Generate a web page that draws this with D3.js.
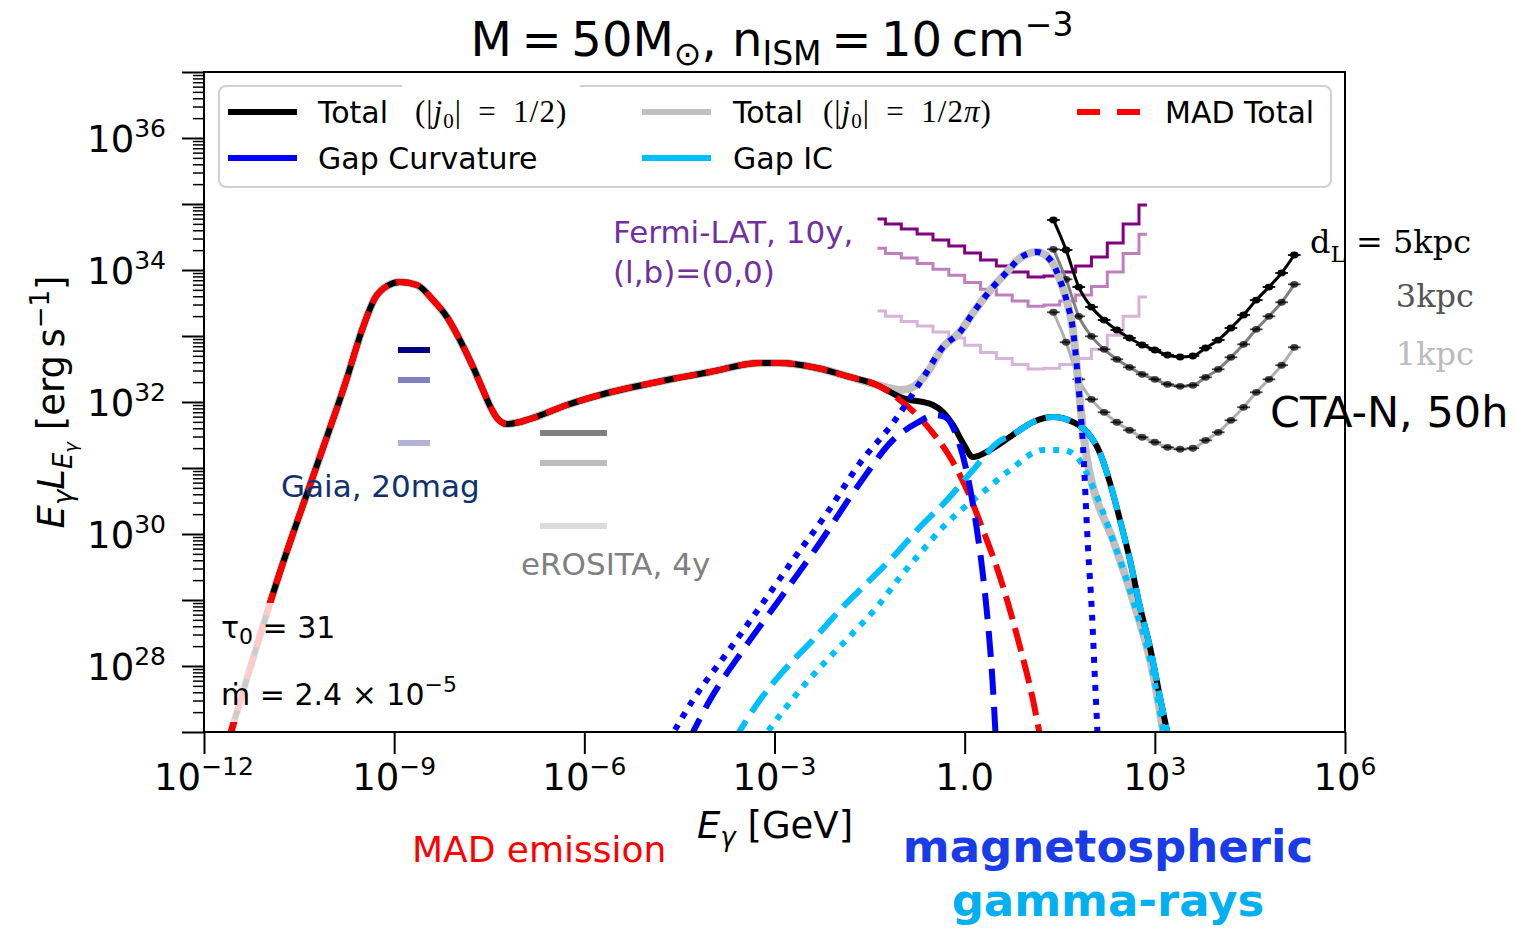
<!DOCTYPE html>
<html>
<head>
<meta charset="utf-8">
<script src="https://cdn.jsdelivr.net/npm/d3@7"></script>
<style>
  body { margin: 0; background: #fff; }
</style>
</head>
<body>
<div id="chartWrap"></div>
<script>
'use strict'

//#region Data (log10 E [GeV], log10 EL_E [erg/s])
const madE = [-11.621, -11.574, -10.801, -10.217, -9.744, -9.507, -9.302, -9.113, -8.908, -8.640, -8.387, -8.167, -7.962, -7.756, -7.599, -7.488, -7.378, -7.220, -7.015, -6.810, -6.274, -5.753, -4.696, -4.018, -3.229, -2.913, -2.330, -1.809, -1.383, -1.020, -0.752, -0.500, -0.232, 0.037, 0.289, 0.557, 0.873, 1.078, 1.188, 1.236];
const madL = [26.848, 27.000, 29.424, 31.045, 32.364, 33.091, 33.576, 33.758, 33.818, 33.773, 33.545, 33.288, 32.939, 32.530, 32.182, 31.939, 31.758, 31.667, 31.697, 31.758, 31.955, 32.106, 32.333, 32.455, 32.591, 32.591, 32.515, 32.379, 32.258, 32.030, 31.803, 31.530, 31.167, 30.667, 30.061, 29.348, 28.288, 27.485, 26.955, 26.758];

// Total, |j0| = 1/2
const totalE = [-11.621, -11.574, -10.801, -10.217, -9.744, -9.507, -9.302, -9.113, -8.908, -8.640, -8.387, -8.167, -7.962, -7.756, -7.599, -7.488, -7.378, -7.220, -7.015, -6.810, -6.274, -5.753, -4.696, -4.018, -3.229, -2.913, -2.330, -1.809, -1.383,
                -1.020, -0.862, -0.657, -0.500, -0.342, -0.184, -0.026, 0.131, 0.400, 0.825, 1.078, 1.393, 1.709, 1.930, 2.135, 2.293, 2.450, 2.608, 2.766, 2.923, 3.081, 3.239];
const totalL = [26.848, 27.000, 29.424, 31.045, 32.364, 33.091, 33.576, 33.758, 33.818, 33.773, 33.545, 33.288, 32.939, 32.530, 32.182, 31.939, 31.758, 31.667, 31.697, 31.758, 31.955, 32.106, 32.333, 32.455, 32.591, 32.591, 32.515, 32.379, 32.258,
                32.076, 32.030, 32.000, 31.955, 31.848, 31.652, 31.379, 31.167, 31.273, 31.545, 31.697, 31.773, 31.697, 31.545, 31.227, 30.773, 30.212, 29.606, 28.894, 28.288, 27.530, 26.803];

// Total, |j0| = 1/2pi
const totalPiE = [-11.621, -11.574, -10.801, -10.217, -9.744, -9.507, -9.302, -9.113, -8.908, -8.640, -8.387, -8.167, -7.962, -7.756, -7.599, -7.488, -7.378, -7.220, -7.015, -6.810, -6.274, -5.753, -4.696, -4.018, -3.229, -2.913, -2.330, -1.809, -1.383,
                  -1.020, -0.815, -0.594, -0.342, -0.074, 0.131, 0.446, 0.667, 0.873, 1.141, 1.377, 1.504, 1.614, 1.709, 1.788, 1.867, 1.945, 2.024, 2.340, 2.655, 2.971, 3.160];
const totalPiL = [26.848, 27.000, 29.424, 31.045, 32.364, 33.091, 33.576, 33.758, 33.818, 33.773, 33.545, 33.288, 32.939, 32.530, 32.182, 31.939, 31.758, 31.667, 31.697, 31.758, 31.955, 32.106, 32.333, 32.455, 32.591, 32.591, 32.515, 32.379, 32.258,
                  32.182, 32.227, 32.439, 32.833, 33.061, 33.348, 33.742, 33.970, 34.182, 34.273, 34.121, 33.848, 33.515, 33.091, 32.333, 31.576, 31.050, 30.712, 29.909, 29.000, 27.894, 26.848];

// Gap curvature
const curvE = [-4.365, -4.018, -3.497, -2.961, -2.330, -1.651, -1.131, -0.752, -0.468, -0.311, -0.121, 0.037, 0.194, 0.273, 0.352, 0.431, 0.494];
const curvL = [26.848, 27.485, 28.242, 28.955, 29.803, 30.773, 31.424, 31.682, 31.803, 31.773, 31.470, 30.924, 30.061, 29.500, 28.803, 27.894, 26.848];
const curvPiE = [-4.680, -4.286, -3.750, -3.229, -2.708, -2.172, -1.651, -1.131, -0.657, -0.342, -0.074, 0.131, 0.446, 0.667, 0.873, 1.141, 1.377, 1.504, 1.614, 1.709, 1.788, 1.867, 1.945, 2.008, 2.056, 2.103];
const curvPiL = [26.848, 27.485, 28.197, 28.894, 29.606, 30.318, 31.076, 31.682, 32.364, 32.833, 33.061, 33.348, 33.742, 33.970, 34.182, 34.273, 34.121, 33.848, 33.515, 33.091, 32.333, 31.318, 29.803, 28.803, 27.788, 26.848];

// Gap IC
const icE = [-3.655, -3.229, -2.803, -2.393, -1.967, -1.541, -1.131, -0.705, -0.279, 0.131, 0.510, 0.825, 1.078, 1.393, 1.709, 1.930, 2.135, 2.293, 2.450, 2.608, 2.766, 2.923, 3.081, 3.239];
const icL = [26.848, 27.485, 27.985, 28.394, 28.848, 29.258, 29.652, 30.106, 30.515, 30.970, 31.379, 31.545, 31.697, 31.773, 31.697, 31.545, 31.227, 30.773, 30.212, 29.606, 28.894, 28.288, 27.530, 26.803];
const icPiE = [-3.229, -2.598, -2.172, -1.762, -1.383, -1.020, -0.657, -0.342, 0.037, 0.289, 0.715, 1.236, 1.551, 1.772, 2.024, 2.340, 2.655, 2.971, 3.160];
const icPiL = [26.848, 27.636, 28.091, 28.500, 28.894, 29.348, 29.758, 30.106, 30.439, 30.636, 30.970, 31.273, 31.273, 31.167, 30.712, 29.909, 29.000, 27.894, 26.848];

// Fermi-LAT 10y sensitivity, (l,b)=(0,0)
const fermiE = [-1.375, -1.125, -0.875, -0.625, -0.375, -0.125, 0.125, 0.375, 0.625, 0.875, 1.125, 1.375, 1.625, 1.875, 2.125, 2.375, 2.625, 2.875];
const fermi5 = [34.773, 34.697, 34.621, 34.545, 34.455, 34.364, 34.258, 34.152, 34.061, 33.970, 33.894, 33.909, 33.970, 34.061, 34.197, 34.409, 34.697, 34.985];
const fermi3 = [34.33, 34.25, 34.18, 34.10, 34.01, 33.92, 33.81, 33.71, 33.62, 33.53, 33.45, 33.47, 33.53, 33.62, 33.75, 33.97, 34.25, 34.54];
const fermi1 = [33.38, 33.30, 33.22, 33.15, 33.06, 32.97, 32.86, 32.75, 32.66, 32.57, 32.50, 32.51, 32.57, 32.66, 32.80, 33.01, 33.30, 33.59];

// CTA-N 50h sensitivity
const ctaE = [1.4, 1.6, 1.8, 2.0, 2.2, 2.4, 2.6, 2.8, 3.0, 3.2, 3.4, 3.6, 3.8, 4.0, 4.2, 4.4, 4.6, 4.8, 5.0, 5.2];
const cta5 = [34.758, 34.303, 33.742, 33.439, 33.242, 33.091, 32.970, 32.864, 32.788, 32.712, 32.682, 32.697, 32.818, 32.939, 33.121, 33.318, 33.545, 33.742, 33.955, 34.227];
const cta3 = [34.314, 33.859, 33.298, 32.995, 32.798, 32.647, 32.526, 32.420, 32.344, 32.268, 32.238, 32.253, 32.374, 32.495, 32.677, 32.874, 33.101, 33.298, 33.511, 33.783];
const cta1 = [33.360, 32.905, 32.344, 32.041, 31.844, 31.693, 31.572, 31.466, 31.390, 31.314, 31.284, 31.299, 31.420, 31.541, 31.723, 31.920, 32.147, 32.344, 32.557, 32.829];
const ctaHalfBin = 0.1;

// Gaia 20mag and eROSITA 4y (band edges, levels for 5/3/1 kpc)
const gaiaE = [-8.940, -8.435];
const gaiaL = [32.788, 32.333, 31.379];
const erositaE = [-6.699, -5.643];
const erositaL = [31.530, 31.076, 30.121];

// Axes ticks
const xTickExp = [-12, -9, -6, -3, 0, 3, 6];
const xTickLabels = [['10', '−12'], ['10', '−9'], ['10', '−6'], ['10', '−3'], ['1.0', ''], ['10', '3'], ['10', '6']];
const yDecades = [27, 28, 29, 30, 31, 32, 33, 34, 35, 36, 37];
const yLabelExp = [28, 30, 32, 34, 36];
//#endregion

window.addEventListener('DOMContentLoaded', function() {
    const svgWidth = 1516, svgHeight = 931;
    const margin = { top: 72, right: 171, bottom: 199, left: 204 };
    const chartWidth = svgWidth - margin.left - margin.right,
          chartHeight = svgHeight - margin.top - margin.bottom;
    const serif = "'DejaVu Serif', serif";

    const svg = d3.select('#chartWrap').append('svg')
        .attr('width', svgWidth)
        .attr('height', svgHeight)
        .attr('font-family', "'DejaVu Sans', sans-serif");

    const x = d3.scaleLog().domain([1e-12, 1e6]).range([margin.left, margin.left + chartWidth]);
    const y = d3.scaleLog().domain([1e27, 1e37]).range([margin.top + chartHeight, margin.top]);
    const px = v => x(Math.pow(10, v));
    const py = v => y(Math.pow(10, v));

    // rich text helper: parts with shift (px, + is down), size, italic
    function rich(sel, parts) {
        let shift = 0;
        parts.forEach(p => {
            const target = p.shift || 0;
            sel.append('tspan')
                .attr('dy', target - shift)
                .attr('font-size', p.size || null)
                .attr('font-style', p.italic ? 'italic' : null)
                .attr('font-family', p.family || null)
                .text(p.t);
            shift = target;
        });
        return sel;
    }

    svg.append('clipPath').attr('id', 'plotClip')
        .append('rect')
        .attr('x', margin.left).attr('y', margin.top)
        .attr('width', chartWidth).attr('height', chartHeight);

    const plot = svg.append('g').attr('clip-path', 'url(#plotClip)');

    const line = d3.line().x(d => px(d[0])).y(d => py(d[1])).curve(d3.curveMonotoneX);
    const stepLine = d3.line().x(d => px(d[0])).y(d => py(d[1])).curve(d3.curveStep);

    //#region Gaia / eROSITA bars
    const gaiaColors = ['#000080', '#8080c0', '#b3b3d9'];
    gaiaL.forEach((l, i) => {
        plot.append('line')
            .attr('x1', px(gaiaE[0])).attr('x2', px(gaiaE[1]))
            .attr('y1', py(l)).attr('y2', py(l))
            .attr('stroke', gaiaColors[i]).attr('stroke-width', 6);
    });
    const erositaColors = ['#808080', '#bdbdbd', '#dcdcdc'];
    erositaL.forEach((l, i) => {
        plot.append('line')
            .attr('x1', px(erositaE[0])).attr('x2', px(erositaE[1]))
            .attr('y1', py(l)).attr('y2', py(l))
            .attr('stroke', erositaColors[i]).attr('stroke-width', 6);
    });
    //#endregion

    //#region Fermi-LAT steps
    [[fermi1, 0.3], [fermi3, 0.5], [fermi5, 1]].forEach(([vals, op]) => {
        plot.append('path')
            .attr('d', stepLine(d3.zip(fermiE, vals)))
            .attr('fill', 'none')
            .attr('stroke', '#800080')
            .attr('stroke-opacity', op)
            .attr('stroke-width', 3);
    });
    //#endregion

    //#region CTA-N curves with markers
    [[cta1, '#b0b0b0', 0.72], [cta3, '#808080', 0.72], [cta5, '#000000', 1]].forEach(([vals, col, mop]) => {
        const pts = d3.zip(ctaE, vals);
        plot.append('path')
            .attr('d', line(pts))
            .attr('fill', 'none')
            .attr('stroke', col)
            .attr('stroke-width', 3);
        const g = plot.append('g').attr('fill', '#000').attr('stroke', '#000')
            .attr('fill-opacity', mop).attr('stroke-opacity', mop);
        g.selectAll('line').data(pts).join('line')
            .attr('x1', d => px(d[0] - ctaHalfBin)).attr('x2', d => px(d[0] + ctaHalfBin))
            .attr('y1', d => py(d[1])).attr('y2', d => py(d[1]))
            .attr('stroke-width', 1.8);
        g.selectAll('ellipse').data(pts).join('ellipse')
            .attr('cx', d => px(d[0])).attr('cy', d => py(d[1]))
            .attr('rx', 4.2).attr('ry', 3.4).attr('stroke', 'none');
    });
    //#endregion

    //#region Model curves
    const curves = [
        { e: totalPiE, l: totalPiL, color: '#c0c0c0', w: 8, dash: null },
        { e: totalE, l: totalL, color: '#000000', w: 6, dash: null },
        { e: madE, l: madL, color: '#ff0000', w: 6, dash: '24,9' },
        { e: icPiE, l: icPiL, color: '#00bfff', w: 6, dash: '6,8' },
        { e: icE, l: icL, color: '#00bfff', w: 6, dash: '25,10' },
        { e: curvPiE, l: curvPiL, color: '#0000ff', w: 6, dash: '6,8' },
        { e: curvE, l: curvL, color: '#0000ff', w: 6, dash: '26,12' }
    ];
    curves.forEach(c => {
        plot.append('path')
            .attr('d', line(d3.zip(c.e, c.l)))
            .attr('fill', 'none')
            .attr('stroke', c.color)
            .attr('stroke-width', c.w)
            .attr('stroke-dasharray', c.dash)
            .attr('stroke-linejoin', 'round');
    });
    //#endregion

    // translucent box behind tau / mdot annotation
    svg.append('rect')
        .attr('x', 214).attr('y', 603).attr('width', 262).attr('height', 119)
        .attr('fill', '#fff').attr('fill-opacity', 0.8);

    //#region Axes
    const yMinor = [];
    yDecades.slice(0, -1).forEach(n => d3.range(2, 10).forEach(k => yMinor.push(k * Math.pow(10, n))));

    svg.append('g')
        .attr('transform', `translate(${margin.left},0)`)
        .call(d3.axisLeft(y).tickValues(yMinor).tickSize(11).tickFormat(''))
        .call(g => g.select('.domain').remove())
        .call(g => g.selectAll('line').attr('stroke-width', 1.5));

    svg.append('g')
        .attr('transform', `translate(${margin.left},0)`)
        .call(d3.axisLeft(y).tickValues(yDecades.map(n => Math.pow(10, n))).tickSize(22).tickFormat(''))
        .call(g => g.select('.domain').remove())
        .call(g => g.selectAll('line').attr('stroke-width', 2));

    yLabelExp.forEach(n => {
        rich(svg.append('text')
            .attr('x', margin.left - 38)
            .attr('y', py(n) + 14)
            .attr('text-anchor', 'end')
            .attr('font-size', 37), [
            { t: '10' },
            { t: String(n), size: 25, shift: -15 }
        ]);
    });

    svg.append('g')
        .attr('transform', `translate(0,${margin.top + chartHeight})`)
        .call(d3.axisBottom(x).tickValues(xTickExp.map(n => Math.pow(10, n))).tickSize(22).tickFormat(''))
        .call(g => g.select('.domain').remove())
        .call(g => g.selectAll('line').attr('stroke-width', 2));

    xTickExp.forEach((n, i) => {
        const lab = xTickLabels[i];
        const parts = [{ t: lab[0] }];
        if (lab[1]) parts.push({ t: lab[1], size: 25, shift: -15 });
        rich(svg.append('text')
            .attr('x', px(n))
            .attr('y', 790)
            .attr('text-anchor', 'middle')
            .attr('font-size', 37), parts);
    });

    // frame
    svg.append('rect')
        .attr('x', margin.left).attr('y', margin.top)
        .attr('width', chartWidth).attr('height', chartHeight)
        .attr('fill', 'none').attr('stroke', '#000').attr('stroke-width', 2);

    // axis labels
    rich(svg.append('text')
        .attr('x', 775).attr('y', 838)
        .attr('text-anchor', 'middle')
        .attr('font-size', 37), [
        { t: 'E', italic: true },
        { t: 'γ', italic: true, size: 26, shift: 8 },
        { t: ' [GeV]' }
    ]);

    rich(svg.append('text')
        .attr('transform', 'translate(64,402) rotate(-90)')
        .attr('text-anchor', 'middle')
        .attr('font-size', 37), [
        { t: 'E', italic: true },
        { t: 'γ', italic: true, size: 26, shift: 8 },
        { t: 'L', italic: true },
        { t: 'E', italic: true, size: 26, shift: 8 },
        { t: 'γ', italic: true, size: 18, shift: 13 },
        { t: ' [erg\u2009s' },
        { t: '−1', size: 26, shift: -15 },
        { t: ']' }
    ]);

    // title
    rich(svg.append('text')
        .attr('x', 772).attr('y', 56)
        .attr('text-anchor', 'middle')
        .attr('font-size', 48), [
        { t: 'M\u2009=\u200950M' },
        { t: '⊙', size: 33, shift: 9 },
        { t: ', n' },
        { t: 'ISM', size: 33, shift: 9 },
        { t: '\u2009=\u200910\u2009cm' },
        { t: '−3', size: 33, shift: -20 }
    ]);
    //#endregion

    //#region Legend
    const legend = svg.append('g').attr('class', 'legend');
    legend.append('rect')
        .attr('x', 219).attr('y', 86).attr('width', 1112).attr('height', 101)
        .attr('rx', 7)
        .attr('fill', '#fff').attr('fill-opacity', 0.8)
        .attr('stroke', '#d0d0d0').attr('stroke-width', 2);
    legend.append('line')
        .attr('x1', 402).attr('x2', 580).attr('y1', 86).attr('y2', 86)
        .attr('stroke', '#fff').attr('stroke-width', 4);

    const legendItems = [
        { x: 228, len: 69, y: 112, color: '#000000', dash: null, label: 'Total', tx: 318, note: [{ t: '(|' }, { t: 'j', italic: true }, { t: '0', size: 21, shift: 6 }, { t: '|\u2002=\u20021/2)' }], nx: 415 },
        { x: 642, len: 69, y: 112, color: '#c0c0c0', dash: null, label: 'Total', tx: 733, note: [{ t: '(|' }, { t: 'j', italic: true }, { t: '0', size: 21, shift: 6 }, { t: '|\u2002=\u20021/2' }, { t: 'π', italic: true }, { t: ')' }], nx: 823 },
        { x: 1077, len: 63, y: 112, color: '#ff0000', dash: '23,17', label: 'MAD Total', tx: 1165 },
        { x: 228, len: 69, y: 158, color: '#0000ff', dash: null, label: 'Gap Curvature', tx: 318 },
        { x: 642, len: 69, y: 158, color: '#00bfff', dash: null, label: 'Gap IC', tx: 733 }
    ];
    legendItems.forEach(d => {
        legend.append('line')
            .attr('x1', d.x).attr('x2', d.x + d.len)
            .attr('y1', d.y).attr('y2', d.y)
            .attr('stroke', d.color).attr('stroke-width', 6)
            .attr('stroke-dasharray', d.dash);
        legend.append('text')
            .attr('x', d.tx).attr('y', d.y + 11)
            .attr('font-size', 30)
            .text(d.label);
        if (d.note) {
            rich(legend.append('text')
                .attr('x', d.nx).attr('y', d.y + 10)
                .attr('font-size', 31)
                .attr('letter-spacing', 1)
                .attr('font-family', "'Liberation Serif', serif"), d.note);
        }
    });
    //#endregion

    //#region Annotations
    const ann = svg.append('g');
    ann.append('text').attr('x', 613).attr('y', 243).attr('font-size', 31).attr('fill', '#7030a0').text('Fermi-LAT, 10y,');
    ann.append('text').attr('x', 613).attr('y', 283).attr('font-size', 31).attr('fill', '#7030a0').text('(l,b)=(0,0)');
    ann.append('text').attr('x', 281).attr('y', 497).attr('font-size', 31).attr('fill', '#10306e').text('Gaia, 20mag');
    ann.append('text').attr('x', 521).attr('y', 575).attr('font-size', 31).attr('fill', '#808080').text('eROSITA, 4y');
    ann.append('text').attr('x', 1270).attr('y', 427).attr('font-size', 43).attr('fill', '#000').text('CTA-N, 50h');

    rich(ann.append('text').attr('x', 1310).attr('y', 253).attr('font-size', 32)
        .attr('font-family', serif), [
        { t: 'd' }, { t: 'L', size: 23, shift: 9 }, { t: ' = 5kpc' }
    ]);
    ann.append('text').attr('x', 1474).attr('y', 307).attr('text-anchor', 'end').attr('font-size', 32)
        .attr('font-family', serif).attr('fill', '#555').text('3kpc');
    ann.append('text').attr('x', 1474).attr('y', 365).attr('text-anchor', 'end').attr('font-size', 32)
        .attr('font-family', serif).attr('fill', '#bbb').text('1kpc');

    rich(ann.append('text').attr('x', 221).attr('y', 638).attr('font-size', 30), [
        { t: 'τ' }, { t: '0', size: 22, shift: 6 }, { t: ' = 31' }
    ]);
    rich(ann.append('text').attr('x', 221).attr('y', 705).attr('font-size', 30), [
        { t: 'ṁ = 2.4 × 10' }, { t: '−5', size: 22, shift: -13 }
    ]);

    ann.append('text').attr('x', 412).attr('y', 862).attr('font-size', 36).attr('fill', '#ff0000').text('MAD emission');
    ann.append('text').attr('x', 1108).attr('y', 862).attr('text-anchor', 'middle')
        .attr('font-size', 45).attr('font-weight', 'bold').attr('fill', '#1a3be8').text('magnetospheric');
    ann.append('text').attr('x', 1108).attr('y', 916).attr('text-anchor', 'middle')
        .attr('font-size', 45).attr('font-weight', 'bold').attr('fill', '#00b0f0').text('gamma-rays');
    //#endregion
});
</script>
</body>
</html>
